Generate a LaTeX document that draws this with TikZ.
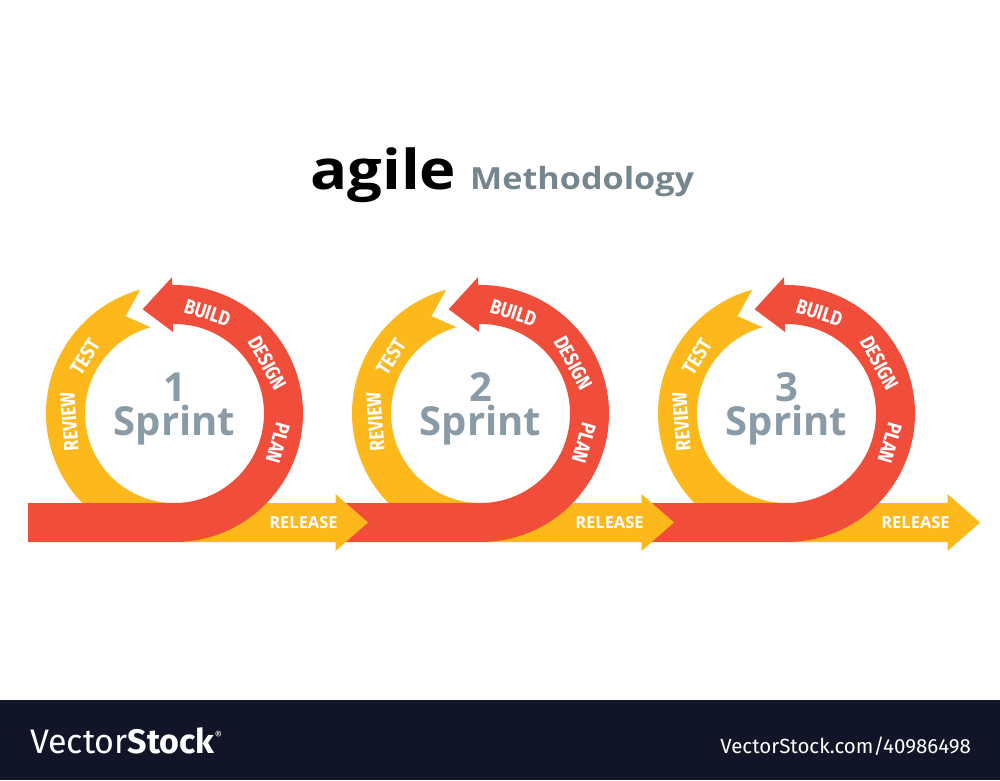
\documentclass[tikz,border=0pt]{standalone}
\usepackage{fontspec}
\setmainfont{Open Sans}
\newfontfamily\titlefont{Open Sans}[FakeStretch=1.12]
\newfontfamily\ringfont{Fira Sans}[FakeStretch=0.84]
\newfontfamily\stockfont{Fira Sans}
\definecolor{sprintred}{HTML}{F04D3A}
\definecolor{sprintyellow}{HTML}{FDB81C}
\definecolor{sprintgray}{HTML}{8A9BA8}
\definecolor{methodgray}{HTML}{76868F}
\definecolor{bannerblue}{HTML}{121527}

\begin{document}
\begin{tikzpicture}[x=1pt,y=1pt,
    redband/.style={fill=sprintred},
    yellowband/.style={fill=sprintyellow},
    ringlabel/.style={text=white,inner sep=0pt,font=\ringfont\bfseries\fontsize{20.5}{20.5}\selectfont},
    release/.style={text=white,inner sep=0pt,font=\bfseries\fontsize{16.5}{16.5}\selectfont},
    sprintnum/.style={text=sprintgray,inner sep=0pt,anchor=base,font=\bfseries\fontsize{40}{40}\selectfont},
    sprintname/.style={text=sprintgray,inner sep=0pt,anchor=base,font=\bfseries\fontsize{40}{40}\selectfont}]
  \useasboundingbox (0,0) rectangle (1000,780);

  % title
  \node[anchor=base west,inner sep=0pt,font=\titlefont\bfseries\fontsize{55}{55}\selectfont] (agile) at (310,590) {agile};
  \node[anchor=base west,inner sep=0pt,text=methodgray,font=\titlefont\bfseries\fontsize{30.5}{30.5}\selectfont] (method) at (470,590) {Methodology};

  % sprints, last one first so the release arrow lies on the next bar
  \foreach \n/\cx in {3/786.5,2/480.5,1/174.5}{
    \begin{scope}[shift={(\cx,366.5)}]
      \fill[yellowband] (105.5:128.5) arc[start angle=105.5,end angle=270,radius=128.5]
        -- (161,-128.5) -- (161,-137.5) -- (193.5,-109) -- (161,-80.5) -- (161,-89.5)
        -- (0,-89.5) arc[start angle=270,end angle=105.5,radius=89.5] -- (116.7:109) -- cycle;
      \fill[redband] (-146.5,-128.5) -- (0,-128.5) arc[start angle=-90,end angle=91,radius=128.5]
        -- (91:136.5) -- (107:109) -- (91:81.5) -- (91:89.5)
        arc[start angle=91,end angle=-90,radius=89.5] -- (-146.5,-89.5) -- cycle;
      \node[ringlabel,rotate=-18.1] (build\n) at (71.9:106) {BUILD};
      \node[ringlabel,rotate=-61.4] (design\n) at (28.6:105.5) {DESIGN};
      \node[ringlabel,rotate=-106] (plan\n) at (-16:107.5) {PLAN};
      \node[ringlabel,rotate=57.7] (test\n) at (147.7:106) {TEST};
      \node[ringlabel,rotate=94.5] (review\n) at (184.5:105.5) {REVIEW};
      \node[release] (release\n) at (129,-109) {RELEASE};
      \node[sprintnum] (num\n) at (0,11.8) {\n};
      \node[sprintname] (sprint\n) at (0,-21.5) {Sprint};
    \end{scope}
  }

  % banner
  \fill[bannerblue] (0,0) rectangle (1000,80);
  \node[anchor=base west,inner sep=0pt,text=white,font=\stockfont\fontsize{34}{34}\selectfont] (stock) at (30,27) {Vector\textbf{Stock}\raisebox{14pt}{\fontsize{11}{11}\selectfont\textregistered}};
  \node[anchor=base east,inner sep=0pt,text=white,font=\stockfont\fontsize{20.5}{20.5}\selectfont] (stockurl) at (971,27) {VectorStock.com/40986498};
\end{tikzpicture}
\end{document}
